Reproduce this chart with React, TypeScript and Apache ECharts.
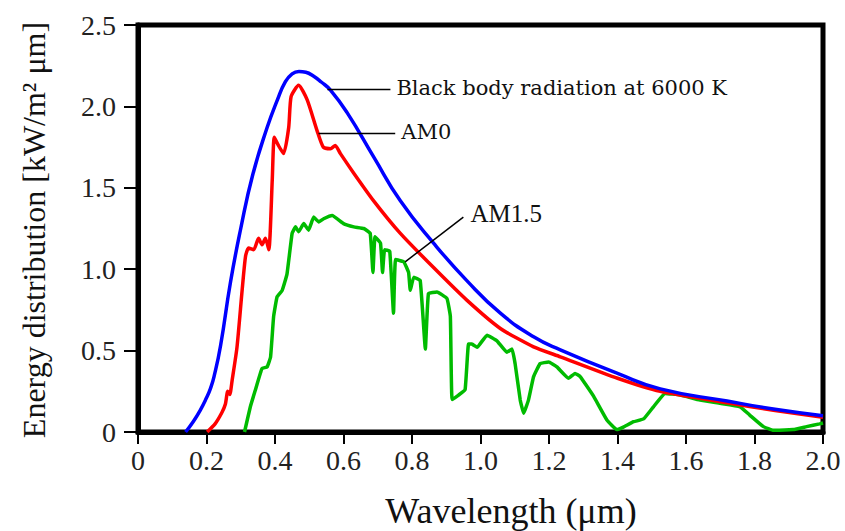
import React, { useEffect, useRef } from "react";
import * as echarts from "echarts";

// Black body radiation at 6000 K (wavelength µm, kW/m²µm)
const blackBodyX = [0.139, 0.16, 0.182, 0.2, 0.212, 0.222, 0.241, 0.27, 0.3, 0.335, 0.377, 0.407, 0.43, 0.45, 0.47, 0.49, 0.513, 0.535, 0.562, 0.611, 0.688, 0.766, 0.863, 0.96, 1.058, 1.155, 1.233, 1.4, 1.525, 1.72, 1.86, 2.0];
const blackBodyY = [0, 0.06, 0.135, 0.21, 0.27, 0.34, 0.53, 0.92, 1.25, 1.58, 1.87, 2.04, 2.15, 2.2, 2.215, 2.21, 2.185, 2.15, 2.1, 1.96, 1.69, 1.42, 1.16, 0.93, 0.73, 0.585, 0.505, 0.36, 0.265, 0.19, 0.14, 0.1];

// AM0 spectrum
const am0X = [0.202, 0.225, 0.245, 0.255, 0.262, 0.268, 0.275, 0.289, 0.304, 0.314, 0.323, 0.338, 0.352, 0.362, 0.372, 0.382, 0.392, 0.398, 0.41, 0.425, 0.44, 0.447, 0.469, 0.494, 0.523, 0.541, 0.562, 0.576, 0.591, 0.63, 0.688, 0.766, 0.863, 0.96, 1.058, 1.155, 1.233, 1.4, 1.525, 1.72, 1.86, 2.0];
const am0Y = [0, 0.05, 0.12, 0.17, 0.25, 0.23, 0.32, 0.52, 0.87, 1.08, 1.13, 1.12, 1.19, 1.15, 1.19, 1.12, 1.55, 1.81, 1.76, 1.71, 1.87, 2.06, 2.13, 2.04, 1.85, 1.75, 1.74, 1.76, 1.71, 1.59, 1.42, 1.22, 1.01, 0.81, 0.636, 0.523, 0.462, 0.33, 0.25, 0.18, 0.132, 0.09];

// AM1.5 spectrum
const am15X = [0.311, 0.328, 0.343, 0.362, 0.377, 0.387, 0.396, 0.406, 0.421, 0.435, 0.45, 0.46, 0.469, 0.484, 0.498, 0.513, 0.528, 0.542, 0.567, 0.6, 0.63, 0.659, 0.678, 0.686, 0.692, 0.708, 0.714, 0.72, 0.735, 0.746, 0.752, 0.776, 0.79, 0.795, 0.805, 0.824, 0.839, 0.848, 0.873, 0.902, 0.912, 0.917, 0.936, 0.955, 0.965, 0.975, 0.99, 1.019, 1.048, 1.077, 1.092, 1.101, 1.116, 1.126, 1.14, 1.155, 1.174, 1.199, 1.223, 1.257, 1.276, 1.291, 1.33, 1.369, 1.398, 1.417, 1.447, 1.476, 1.505, 1.539, 1.583, 1.641, 1.7, 1.758, 1.786, 1.826, 1.855, 1.913, 1.952, 1.99, 2.0];
const am15Y = [0, 0.155, 0.26, 0.39, 0.4, 0.46, 0.71, 0.83, 0.87, 0.97, 1.22, 1.26, 1.23, 1.28, 1.24, 1.32, 1.29, 1.31, 1.33, 1.28, 1.26, 1.25, 1.22, 0.98, 1.2, 1.16, 0.98, 1.12, 1.11, 0.73, 1.06, 1.045, 0.98, 0.87, 0.95, 0.93, 0.51, 0.85, 0.86, 0.82, 0.71, 0.2, 0.227, 0.26, 0.54, 0.54, 0.52, 0.595, 0.56, 0.49, 0.51, 0.42, 0.196, 0.115, 0.196, 0.34, 0.42, 0.43, 0.4, 0.33, 0.36, 0.34, 0.22, 0.074, 0.015, 0.03, 0.063, 0.08, 0.155, 0.237, 0.227, 0.196, 0.176, 0.155, 0.104, 0.033, 0.01, 0.015, 0.033, 0.05, 0.055];

// Annotations: label, leader-line start and end in data coordinates
const annoLabels = ["Black body radiation at 6000 K", "AM0", "AM1.5"];
const annoFrom = [[0.553, 2.104], [0.527, 1.834], [0.78, 1.045]];
const annoTo = [[0.737, 2.104], [0.751, 1.834], [0.95, 1.32]];

const xTitle = "Wavelength (μm)";
const yTitle = "Energy distribution [kW/m² μm]";

const zip = (xs: number[], ys: number[]) => xs.map((x, i) => [x, ys[i]]);
const fmt = (v: number) => (v === 0 ? "0" : v.toFixed(1));

export default function App() {
  const ref = useRef<HTMLDivElement>(null);
  useEffect(() => {
    if (!ref.current) return;
    const chart = echarts.init(ref.current, undefined, { renderer: "svg" });
    const serif = "Liberation Serif";
    const lineSeries = (name: string, data: number[][], color: string, smooth: number) => ({
      name,
      type: "line",
      data,
      showSymbol: false,
      symbol: "none",
      smooth,
      lineStyle: { color, width: 3.5 },
      z: 3,
    });
    chart.setOption({
      animation: false,
      backgroundColor: "#fff",
      grid: { left: 138, right: 22, top: 25, bottom: 99, show: true, borderColor: "#000", borderWidth: 5 },
      xAxis: {
        type: "value",
        min: 0,
        max: 2,
        interval: 0.2,
        axisLine: { show: true, onZero: false, lineStyle: { color: "#000", width: 5 } },
        axisTick: { show: true, inside: false, length: 12, lineStyle: { color: "#000", width: 2 } },
        axisLabel: { margin: 14, fontFamily: serif, fontSize: 28, color: "#222", formatter: fmt, showMinLabel: true, showMaxLabel: true },
        splitLine: { show: false },
      },
      yAxis: {
        type: "value",
        min: 0,
        max: 2.5,
        interval: 0.5,
        axisLine: { show: true, onZero: false, lineStyle: { color: "#000", width: 5 } },
        axisTick: { show: true, inside: false, length: 14, lineStyle: { color: "#000", width: 2 } },
        axisLabel: { margin: 22, fontFamily: serif, fontSize: 28, color: "#222", formatter: fmt, showMinLabel: true, showMaxLabel: true },
        splitLine: { show: false },
      },
      series: [
        lineSeries("AM1.5", zip(am15X, am15Y), "#00bb00", 0.1),
        lineSeries("AM0", zip(am0X, am0Y), "#ff0000", 0.2),
        lineSeries("Black body radiation at 6000 K", zip(blackBodyX, blackBodyY), "#0000ff", 0.5),
      ],
    });

    const px = (p: number[]) => chart.convertToPixel({ gridIndex: 0 }, p) as number[];
    const graphics: any[] = [];
    annoLabels.forEach((label, i) => {
      const a = px(annoFrom[i]);
      const b = px(annoTo[i]);
      graphics.push({
        type: "line",
        shape: { x1: a[0], y1: a[1], x2: b[0], y2: b[1] },
        style: { stroke: "#000", lineWidth: 1.5 },
        z: 10,
      });
      const isAm15 = i === 2;
      graphics.push({
        type: "text",
        x: b[0] + (isAm15 ? 7 : 6),
        y: b[1] + (isAm15 ? -4 : -1),
        style: {
          text: label,
          font: isAm15 ? `25px ${serif}` : "21px DejaVu Serif",
          fill: "#111",
          textAlign: "left",
          textVerticalAlign: "middle",
        },
        z: 10,
      });
    });
    graphics.push({
      type: "text",
      x: 511,
      y: 511,
      style: { text: xTitle, font: `36px ${serif}`, fill: "#111", textAlign: "center", textVerticalAlign: "middle" },
    });
    graphics.push({
      type: "text",
      x: 34,
      y: 230,
      rotation: Math.PI / 2,
      style: { text: yTitle, font: `32px ${serif}`, fill: "#111", textAlign: "center", textVerticalAlign: "middle" },
    });
    chart.setOption({ graphic: graphics });
    return () => chart.dispose();
  }, []);
  return <div ref={ref} style={{ width: 845, height: 531, position: "fixed", left: 0, top: 0 }} />;
}
